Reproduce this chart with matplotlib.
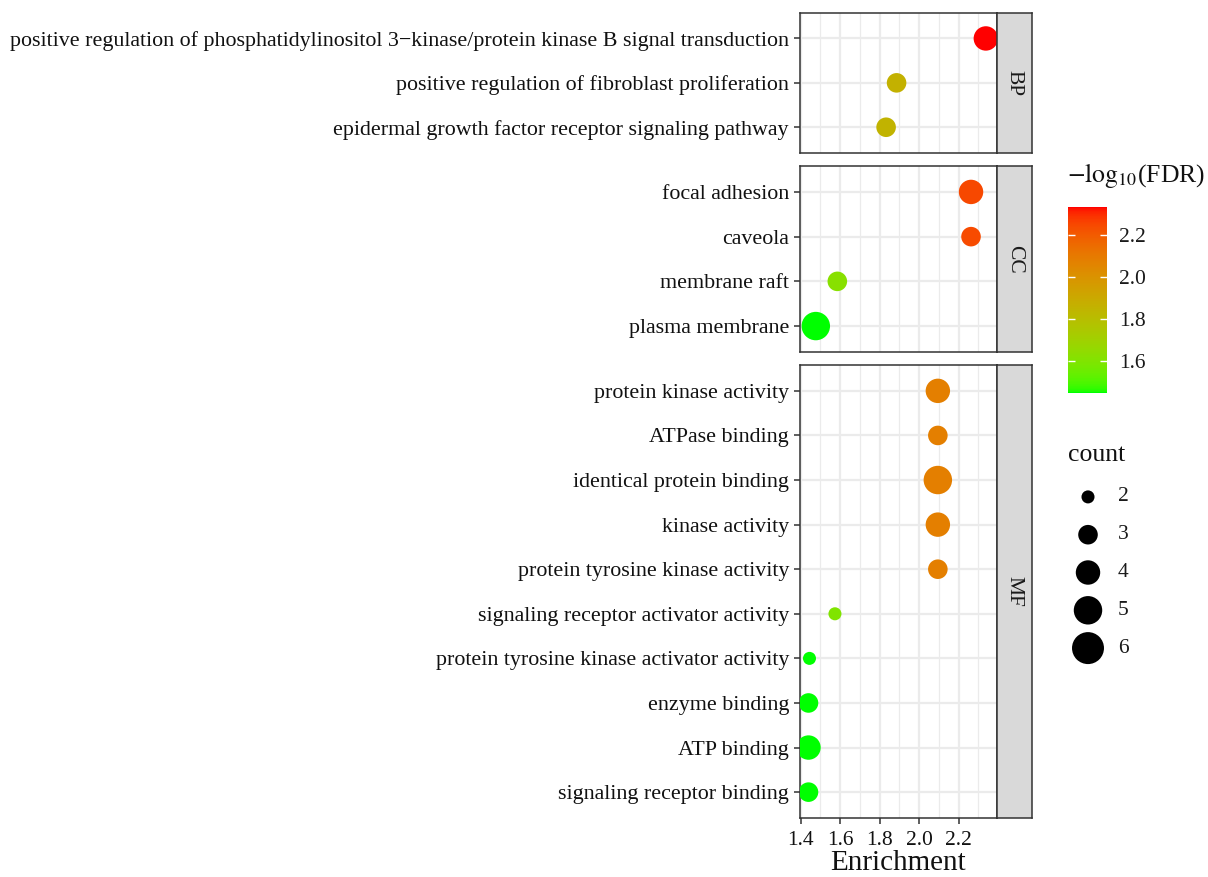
"""
GO enrichment bubble chart (BP / CC / MF facets).
"""

import numpy as np
import matplotlib
matplotlib.use("Agg")
import matplotlib.pyplot as plt
from matplotlib.colors import LinearSegmentedColormap, Normalize
from matplotlib.ticker import MultipleLocator

plt.rcParams["font.family"] = ["Liberation Serif", "DejaVu Serif"]
plt.rcParams["mathtext.fontset"] = "stix"

# ---- data -----------------------------------------------------------------

bp_terms = [
    "positive regulation of phosphatidylinositol 3\u2212kinase/protein kinase B signal transduction",
    "positive regulation of fibroblast proliferation",
    "epidermal growth factor receptor signaling pathway",
]
bp_enrichment = [2.338, 1.886, 1.833]
bp_count = [4, 3, 3]
bp_logfdr = [2.333, 1.86, 1.85]

cc_terms = ["focal adhesion", "caveola", "membrane raft", "plasma membrane"]
cc_enrichment = [2.263, 2.263, 1.586, 1.477]
cc_count = [4, 3, 3, 5]
cc_logfdr = [2.25, 2.24, 1.62, 1.448]

mf_terms = [
    "protein kinase activity",
    "ATPase binding",
    "identical protein binding",
    "kinase activity",
    "protein tyrosine kinase activity",
    "signaling receptor activator activity",
    "protein tyrosine kinase activator activity",
    "enzyme binding",
    "ATP binding",
    "signaling receptor binding",
]
mf_enrichment = [2.095, 2.095, 2.095, 2.095, 2.095, 1.574, 1.445, 1.44, 1.44, 1.44]
mf_count = [4, 3, 5, 4, 3, 2, 2, 3, 4, 3]
mf_logfdr = [2.08, 2.08, 2.08, 2.08, 2.08, 1.60, 1.45, 1.448, 1.448, 1.448]

x_ticks = [1.4, 1.6, 1.8, 2.0, 2.2]
fdr_ticks = [1.6, 1.8, 2.0, 2.2]
count_levels = [2, 3, 4, 5, 6]

panels = [
    ("BP", bp_terms, bp_enrichment, bp_count, bp_logfdr),
    ("CC", cc_terms, cc_enrichment, cc_count, cc_logfdr),
    ("MF", mf_terms, mf_enrichment, mf_count, mf_logfdr),
]


# ---- colour scale: green -> red interpolated in CIE Lab -------------------

def srgb_to_lab(rgb):
    c = np.asarray(rgb, dtype=float)
    lin = np.where(c <= 0.04045, c / 12.92, ((c + 0.055) / 1.055) ** 2.4)
    m = np.array([[0.4124, 0.3576, 0.1805],
                  [0.2126, 0.7152, 0.0722],
                  [0.0193, 0.1192, 0.9505]])
    xyz = m @ lin / np.array([0.95047, 1.0, 1.08883])
    f = np.where(xyz > 0.008856, np.cbrt(xyz), 7.787 * xyz + 16 / 116)
    return np.array([116 * f[1] - 16, 500 * (f[0] - f[1]), 200 * (f[1] - f[2])])


def lab_to_srgb(lab):
    L, a, b = lab
    fy = (L + 16) / 116
    fx = fy + a / 500
    fz = fy - b / 200
    f = np.array([fx, fy, fz])
    xyz = np.where(f ** 3 > 0.008856, f ** 3, (f - 16 / 116) / 7.787)
    xyz = xyz * np.array([0.95047, 1.0, 1.08883])
    m_inv = np.array([[3.2406, -1.5372, -0.4986],
                      [-0.9689, 1.8758, 0.0415],
                      [0.0557, -0.2040, 1.0570]])
    lin = np.clip(m_inv @ xyz, 0, 1)
    c = np.where(lin <= 0.0031308, 12.92 * lin, 1.055 * lin ** (1 / 2.4) - 0.055)
    return np.clip(c, 0, 1)


low = srgb_to_lab([0.0, 1.0, 0.0])
high = srgb_to_lab([1.0, 0.0, 0.0])
ramp = [lab_to_srgb(low + t * (high - low)) for t in np.linspace(0, 1, 256)]
fdr_cmap = LinearSegmentedColormap.from_list("fdr", ramp)

all_fdr = bp_logfdr + cc_logfdr + mf_logfdr
norm = Normalize(vmin=min(all_fdr), vmax=max(all_fdr))


def point_size(count):
    # area scale: count 2 -> ~9.4pt diameter, count 6 -> ~23pt
    return 88 + (np.asarray(count, dtype=float) - 2) * 110.5


# ---- layout helpers -------------------------------------------------------

W, H = 1208, 877
DPI = 100


def frac_box(x0, y0, x1, y1):
    return [x0 / W, 1 - y1 / H, (x1 - x0) / W, (y1 - y0) / H]


GRID_MAJOR = "#EBEBEB"
BORDER = "#333333"
TEXT = "#111111"

panel_x0, panel_x1, strip_x1 = 800, 996.5, 1032
panel_rows = [(12.7, 153), (166, 352), (365, 818)]
x_limits = (1.397, 2.392)
pad = 0.58

fig = plt.figure(figsize=(W / DPI, H / DPI), dpi=DPI)

for i, (facet, terms, enrich, count, logfdr) in enumerate(panels):
    y0, y1 = panel_rows[i]
    ax = fig.add_axes(frac_box(panel_x0, y0, panel_x1, y1))
    ypos = np.arange(len(terms))

    ax.set_xlim(*x_limits)
    ax.set_ylim(len(terms) - 1 + pad, -pad)
    ax.xaxis.set_major_locator(MultipleLocator(0.2))
    ax.xaxis.set_minor_locator(MultipleLocator(0.1))
    ax.set_xticks(x_ticks)
    ax.set_yticks(ypos)
    ax.set_yticklabels(terms)

    ax.grid(which="major", color=GRID_MAJOR, linewidth=1.6, zorder=0)
    ax.grid(which="minor", axis="x", color=GRID_MAJOR, linewidth=0.9, zorder=0)
    ax.set_axisbelow(True)

    ax.scatter(enrich, ypos, s=point_size(count), c=logfdr,
               cmap=fdr_cmap, norm=norm, linewidths=0, zorder=3)

    for side in ax.spines.values():
        side.set_color(BORDER)
        side.set_linewidth(1.1)

    ax.tick_params(axis="y", length=4, width=1.1, color=BORDER,
                   labelsize=15.8, labelcolor=TEXT, pad=4)
    ax.tick_params(axis="x", which="minor", length=0)
    if i == len(panels) - 1:
        ax.tick_params(axis="x", which="major", length=4.5, width=1.1,
                       color=BORDER, labelsize=15.5, labelcolor=TEXT, pad=5)
        ax.set_xlabel("Enrichment", fontsize=21, color=TEXT, labelpad=0)
    else:
        ax.tick_params(axis="x", which="major", length=0, labelbottom=False)

    # facet strip on the right
    strip = fig.add_axes(frac_box(panel_x1, y0, strip_x1, y1))
    strip.set_facecolor("#D9D9D9")
    strip.set_xticks([])
    strip.set_yticks([])
    for side in strip.spines.values():
        side.set_color(BORDER)
        side.set_linewidth(1.1)
    strip.text(0.5, 0.5, facet, rotation=270, ha="center", va="center",
               fontsize=15.5, color="#1A1A1A", transform=strip.transAxes)

# ---- colour bar -----------------------------------------------------------

cax = fig.add_axes(frac_box(1068, 207, 1107, 393))
sm = plt.cm.ScalarMappable(cmap=fdr_cmap, norm=norm)
cbar = fig.colorbar(sm, cax=cax, ticks=fdr_ticks)
cbar.outline.set_visible(False)
cax.yaxis.set_ticks_position("both")
cax.tick_params(axis="y", direction="in", length=5, width=1, color="white",
                left=True, right=True, labelleft=False, labelright=True,
                labelsize=15.5, labelcolor="#1A1A1A", pad=9)
cax.set_yticklabels([f"{t:.1f}" for t in fdr_ticks])
fig.text(1067 / W, 1 - 175 / H, r"$-\mathrm{log}_{10}$(FDR)",
         fontsize=18.5, ha="left", va="center", color=TEXT)

# ---- size legend ----------------------------------------------------------

lax = fig.add_axes(frac_box(1068, 478, 1108, 667))
lax.set_xlim(-1, 1)
lax.set_ylim(count_levels[-1] + 0.5, count_levels[0] - 0.5)
lax.scatter(np.zeros(len(count_levels)), count_levels,
            s=point_size(count_levels), color="black", linewidths=0)
for lvl in count_levels:
    lax.text(1.5, lvl, str(lvl), ha="left", va="center",
             fontsize=15.5, color="#1A1A1A")
lax.axis("off")
fig.text(1068 / W, 1 - 455 / H, "count", fontsize=18.5,
         ha="left", va="center", color=TEXT)

fig.savefig("out.png", dpi=DPI)
